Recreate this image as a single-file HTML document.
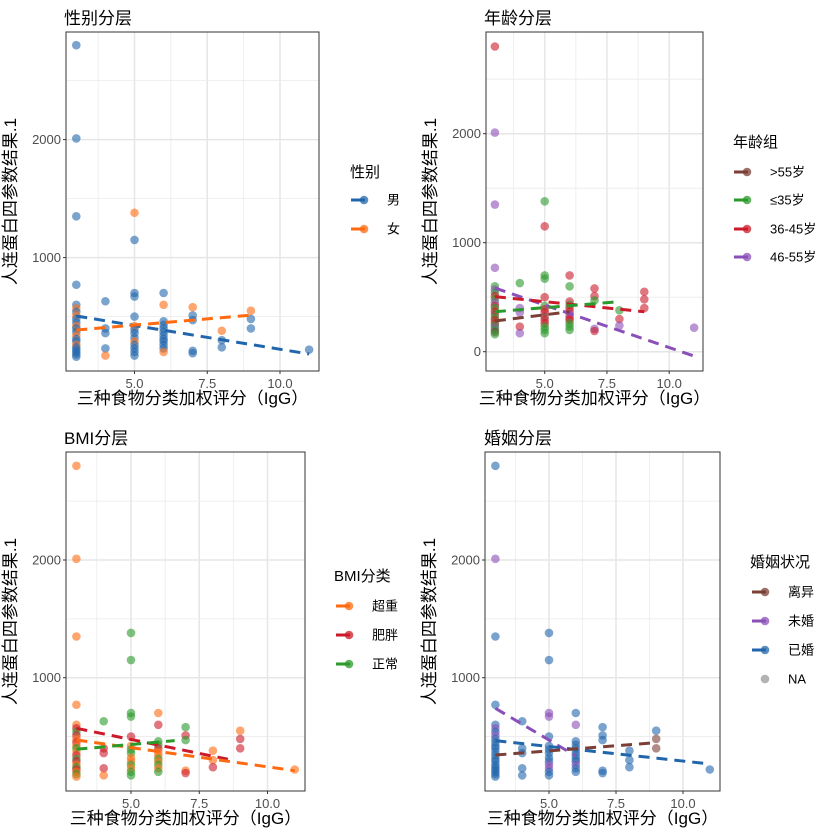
<!DOCTYPE html>
<html><head><meta charset="utf-8"><style>
html,body{margin:0;padding:0;background:#fff}
svg{display:block}
text{font-family:"Liberation Sans","Noto Sans CJK SC",sans-serif}
</style></head><body>
<svg id="s" width="840" height="840" xmlns="http://www.w3.org/2000/svg"></svg>
<script>
const S=document.getElementById('s');let h='';
const C={M:'#2166ac',F:'#ff6a10',o55:'#7b3f35',y35:'#2a9a2a',a36:'#cc1a2a',a46:'#8a4fb8',ow:'#ff6a10',ob:'#cc1a2a',nm:'#2a9a2a',div:'#7b3f35',sg:'#8a4fb8',mar:'#2166ac',na:'#999'};
const D=[
[3,2800,'M','a36','ow','mar'],[3,2010,'M','a46','ow','sg'],[3,1350,'M','a46','ow','mar'],[3,770,'M','a46','ow','mar'],
[3,600,'M','y35','ow','mar'],[3,570,'F','a46','ob','sg'],[3,540,'M','y35','nm','mar'],[3,510,'F','a36','ob','sg'],[3,480,'M','y35','ow','mar'],
[3,450,'M','a46','ob','mar'],[3,420,'F','a36','ow','mar'],[3,400,'M','y35','nm','mar'],[3,370,'M','a36','ow','mar'],[3,340,'F','o55','ob','mar'],
[3,310,'M','y35','nm','mar'],[3,290,'M','a36','ob','mar'],[3,260,'F','a36','ow','mar'],[3,240,'M','y35','nm','mar'],[3,220,'M','a46','ob','mar'],
[3,200,'M','y35','ow','mar'],[3,180,'M','o55','nm','mar'],[3,160,'M','y35','ow','mar'],
[4,630,'M','y35','nm','mar'],[4,400,'M','a46','ob','mar'],[4,360,'M','a46','ob','mar'],[4,230,'M','a36','ob','mar'],[4,170,'F','a46','ow','mar'],
[5,1380,'F','y35','nm','mar'],[5,1150,'M','a36','nm','mar'],[5,700,'M','y35','nm','sg'],[5,670,'M','y35','nm','sg'],[5,500,'M','a36','ob','mar'],
[5,420,'F','y35','ow','mar'],[5,390,'M','a36','nm','mar'],[5,360,'M','a36','nm','mar'],[5,320,'M','o55','ow','mar'],[5,290,'F','a36','ow','mar'],
[5,260,'M','a36','nm','sg'],[5,230,'M','y35','ow','sg'],[5,200,'M','y35','nm','mar'],[5,170,'M','y35','nm','mar'],
[6,700,'M','a36','ow','mar'],[6,600,'F','y35','ob','sg'],[6,460,'M','a36','nm','mar'],[6,430,'M','y35','nm','mar'],[6,400,'M','a36','ob','mar'],
[6,370,'M','a36','ow','mar'],[6,340,'M','a46','ow','mar'],[6,310,'M','a36','nm','mar'],[6,290,'M','a36','ow','mar'],[6,260,'M','y35','nm','sg'],
[6,230,'M','y35','ow','mar'],[6,200,'F','y35','nm','mar'],
[7,580,'F','a36','nm','mar'],[7,510,'M','a36','ob','mar'],[7,470,'M','y35','nm','mar'],[7,210,'M','a46','ow','mar'],[7,190,'M','a36','ob','mar'],
[8,380,'F','y35','ow','mar'],[8,300,'M','a36','ow','mar'],[8,240,'M','a46','ob','mar'],
[9,550,'F','a36','ow','mar'],[9,480,'M','a36','ob','div'],[9,400,'M','a36','ob','div'],
[11,220,'M','a46','ow','mar']];
const P=[
{title:'性别分层',tx:64,ty:24,x0:76.3,xs:29.1,y0:375.6,ys:0.118,L:66,R:319,T:32,B:371,yt:[1000,2000],k:2,
 lines:[['M',3,505,11,183],['F',3,386,9,512]],leg:{t:'性别',x:350,ty:177,iy:[200,229],it:[['M','男'],['F','女']],kx:351}},
{title:'年龄分层',tx:484,ty:24,x0:494.9,xs:24.9,y0:351.7,ys:0.109,L:486,R:703,T:32,B:371,yt:[0,1000,2000],k:3,
 lines:[['a46',3,584,11,-40],['a36',3,505,9,367],['y35',3,367,8,459],['o55',3,282,6,367]],leg:{t:'年龄组',x:733,ty:147,iy:[172,200,229,257],it:[['o55','>55岁'],['y35','≤35岁'],['a36','36-45岁'],['a46','46-55岁']],kx:734}},
{title:'BMI分层',tx:64,ty:444,x0:76.4,xs:27.3,y0:795.4,ys:0.1177,L:66,R:305,T:452,B:791,yt:[1000,2000],k:4,
 lines:[['ob',3,570,8.55,307],['ow',3,471,11,210],['nm',3,392,6.6,465]],leg:{t:'BMI分类',x:334,ty:581,iy:[606,635,664],it:[['ow','超重'],['ob','肥胖'],['nm','正常']],kx:336}},
{title:'婚姻分层',tx:484,ty:444,x0:495.4,xs:26.8,y0:795.4,ys:0.1177,L:485,R:720,T:452,B:791,yt:[1000,2000],k:5,
 lines:[['sg',3,740,6,335],['mar',3,465,11,267],['div',3,343,9,448]],leg:{t:'婚姻状况',x:750,ty:567,iy:[592,621,650,679],it:[['div','离异'],['sg','未婚'],['mar','已婚'],['na','NA']],kx:752}}];
P.forEach(p=>{
 const X=v=>p.x0+(v-3)*p.xs,Y=v=>p.y0-v*p.ys;
 h+=`<rect x="${p.L}" y="${p.T}" width="${p.R-p.L}" height="${p.B-p.T}" fill="#fff"/>`;
 [3.75,6.25,8.75].forEach(v=>h+=`<line x1="${X(v)}" x2="${X(v)}" y1="${p.T}" y2="${p.B}" stroke="#ebebeb" stroke-width="0.8"/>`);
 [5,7.5,10].forEach(v=>h+=`<line x1="${X(v)}" x2="${X(v)}" y1="${p.T}" y2="${p.B}" stroke="#e6e6e6" stroke-width="1.5"/>`);
 [-500,500,1500,2500].forEach(v=>{const y=Y(v);if(y>p.T&&y<p.B)h+=`<line x1="${p.L}" x2="${p.R}" y1="${y}" y2="${y}" stroke="#ebebeb" stroke-width="0.8"/>`});
 p.yt.forEach(v=>{const y=Y(v);h+=`<line x1="${p.L}" x2="${p.R}" y1="${y}" y2="${y}" stroke="#e6e6e6" stroke-width="1.5"/><line x1="${p.L-3}" x2="${p.L}" y1="${y}" y2="${y}" stroke="#333"/><text x="${p.L-5}" y="${y+4.5}" font-size="13" fill="#4d4d4d" text-anchor="end">${v}</text>`});
 [5,7.5,10].forEach(v=>h+=`<line x1="${X(v)}" x2="${X(v)}" y1="${p.B}" y2="${p.B+3}" stroke="#333"/><text x="${X(v)}" y="${p.B+17}" font-size="13" fill="#4d4d4d" text-anchor="middle">${v.toFixed(1)}</text>`);
 D.forEach(d=>h+=`<circle cx="${X(d[0])}" cy="${Y(d[1])}" r="4.3" fill="${C[d[p.k]]}" fill-opacity="0.6"/>`);
 p.lines.forEach(l=>h+=`<line x1="${X(l[1])}" y1="${Y(l[2])}" x2="${X(l[3])}" y2="${Y(l[4])}" stroke="${C[l[0]]}" stroke-width="3" stroke-dasharray="11,7"/>`);
 h+=`<rect x="${p.L}" y="${p.T}" width="${p.R-p.L}" height="${p.B-p.T}" fill="none" stroke="#333" stroke-width="1"/>`;
 h+=`<text x="${p.tx}" y="${p.ty}" font-size="17" fill="#000">${p.title}</text>`;
 h+=`<text x="${(p.L+p.R)/2}" y="${p.B+33}" font-size="17" text-anchor="middle" fill="#000">三种食物分类加权评分（IgG）</text>`;
 const yl=p.L-50,yc=(p.T+p.B)/2;
 h+=`<text transform="translate(${yl},${yc}) rotate(-90)" font-size="17" text-anchor="middle" fill="#000">人连蛋白四参数结果.1</text>`;
 const g=p.leg;
 h+=`<text x="${g.x}" y="${g.ty}" font-size="15" fill="#000">${g.t}</text>`;
 g.it.forEach((it,i)=>{const y=g.iy[i];const c=C[it[0]];
  if(it[0]!=='na')h+=`<line x1="${g.kx}" x2="${g.kx+14}" y1="${y}" y2="${y}" stroke="${c}" stroke-width="3"/>`;
  h+=`<circle cx="${g.kx+13}" cy="${y}" r="4.3" fill="${c}" fill-opacity="0.75"/><text x="${g.kx+36}" y="${y+4.5}" font-size="13" fill="#000">${it[1]}</text>`});
});
S.innerHTML=h;
</script>
</body></html>
